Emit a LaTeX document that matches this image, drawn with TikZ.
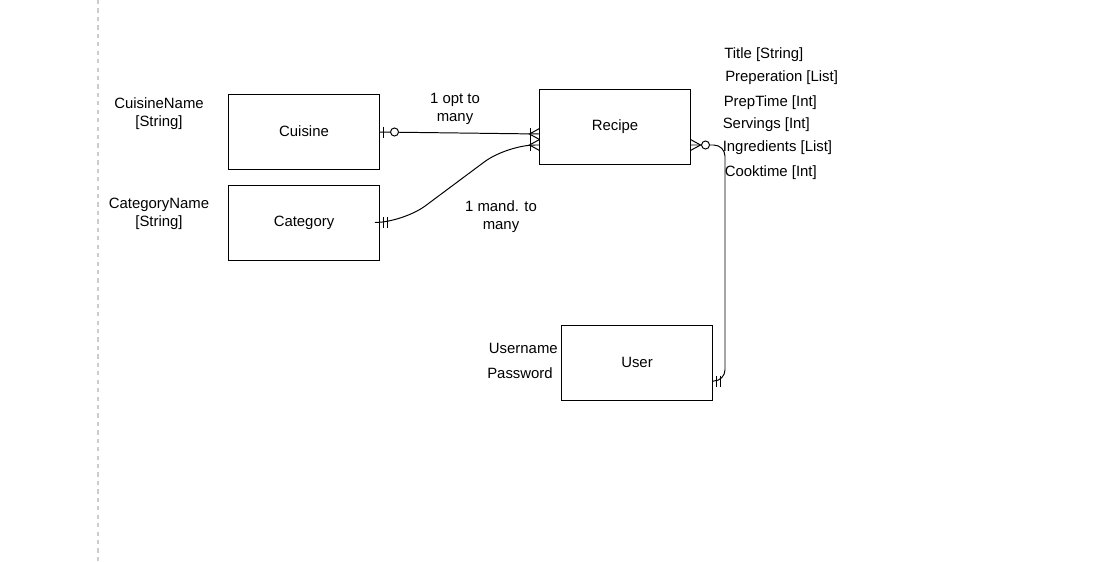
\documentclass[tikz,border=0pt]{standalone}
\usepackage{fontspec}
\setmainfont{Liberation Sans}
\usetikzlibrary{calc}

\begin{document}
\begin{tikzpicture}[x=0.025cm,y=-0.025cm]
    \tikzset{
        entity/.style={draw=black, line width=0.7pt, minimum width=3.75cm, minimum height=1.875cm, inner sep=0pt, font=\fontsize{10.6}{12.8}\selectfont},
        textlabel/.style={inner sep=0pt, align=center, font=\fontsize{10.6}{12.8}\selectfont},
        attr/.style={inner sep=0pt, anchor=west, font=\fontsize{10.6}{12.8}\selectfont},
        rel/.style={draw=black, line width=0.7pt},
        ermark/.style={draw=black, line width=0.7pt}
    }
    \useasboundingbox (0,0) rectangle (1119,561);
    % page guide
    \draw [gray!40, line width=1.4pt, dash pattern=on 3pt off 3pt] (98,0) -- (98,561);
    % entities
    \node [entity] (cuisine) at (304,131.5) {Cuisine};
    \node [entity] (category) at (304,222.5) {Category};
    \node [entity] (recipe) at (615,126.5) {Recipe};
    \node [entity] (user) at (637,362.5) {User};
    % attributes
    \node [textlabel] (cuisinename) at (159,113.5) {CuisineName\\{[}String{]}};
    \node [textlabel] (categoryname) at (159,213.5) {CategoryName\\{[}String{]}};
    \node [attr] (title) at (724,54.5) {Title [String]};
    \node [attr] (preperation) at (725,77.5) {Preperation [List]};
    \node [attr] (preptime) at (723.5,102.5) {PrepTime [Int]};
    \node [attr] (servings) at (722.5,124.5) {Servings [Int]};
    \node [attr] (ingredients) at (722.5,147.5) {Ingredients [List]};
    \node [attr] (cooktime) at (724.5,172.5) {Cooktime [Int]};
    \node [attr, anchor=east] (username) at (558,348.5) {Username};
    \node [attr, anchor=east] (password) at (553,373.5) {Password};
    % relationship labels
    \node [textlabel] (optmany) at (455,108.5) {1 opt to\\many};
    \node [textlabel] (mandmany) at (501,216.5) {1 mand. to\\many};
    % cuisine -- recipe
    \coordinate (c1) at ($(cuisine.east)+(0,0.5)$);
    \coordinate (r1) at ($(recipe.west)+(0,7.5)$);
    \draw [rel] (c1) -- (r1);
    \draw [ermark] ($(c1)+(4,-5.5)$) -- ++(0,11);
    \draw [ermark, fill=white] ($(c1)+(15,0)$) circle [radius=0.1cm];
    \draw [ermark] ($(r1)+(-9,-6)$) -- ++(0,12);
    \draw [ermark] ($(r1)+(0,-5.5)$) -- ($(r1)+(-10,0)$) -- ($(r1)+(0,5.5)$);
    % category -- recipe
    \coordinate (c2) at (category.east);
    \coordinate (r2) at ($(recipe.west)+(0,18.5)$);
    \draw [rel, rounded corners=20] (c2) -- (403,222.5) -- (507,145) -- (r2);
    \draw [ermark] ($(c2)+(4,-5.5)$) -- ++(0,11);
    \draw [ermark] ($(c2)+(8,-5.5)$) -- ++(0,11);
    \draw [ermark] ($(r2)+(-9,-6)$) -- ++(0,12);
    \draw [ermark] ($(r2)+(0,-5.5)$) -- ($(r2)+(-10,0)$) -- ($(r2)+(0,5.5)$);
    % recipe -- user
    \coordinate (r3) at ($(recipe.east)+(0,18.5)$);
    \coordinate (u3) at ($(user.east)+(0,18.5)$);
    \draw [rel, rounded corners=8] (r3) -- (725,145) -- (725,381) -- (u3);
    \draw [ermark] ($(r3)+(0,-5.5)$) -- ($(r3)+(10,0)$) -- ($(r3)+(0,5.5)$);
    \draw [ermark, fill=white] ($(r3)+(15,0)$) circle [radius=0.1cm];
    \draw [ermark] ($(u3)+(4,-5.5)$) -- ++(0,11);
    \draw [ermark] ($(u3)+(8,-5.5)$) -- ++(0,11);
\end{tikzpicture}
\end{document}
